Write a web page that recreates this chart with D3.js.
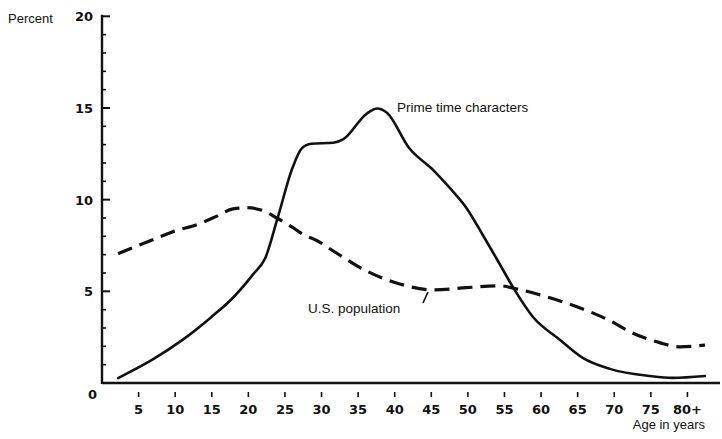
<!DOCTYPE html>
<html><head><meta charset="utf-8">
<script src="https://cdn.jsdelivr.net/npm/d3@7"></script>
<style>body{margin:0;background:#fff}svg{display:block}</style>
</head><body><svg id="c" width="722" height="439"></svg>
<script>
const primeAges = [2.2, 7, 11, 14.8, 17.9, 20.7, 22.3, 24, 26, 27.3, 28.6, 31.6, 33, 36.2, 37.6, 38.9, 42, 45.3, 47.5, 49.8, 52, 54.4, 56.2, 58.9, 62.6, 65.7, 69.4, 74.9, 78, 82.4];
const primeValues = [0.27, 1.3, 2.35, 3.55, 4.65, 5.95, 6.8, 9.0, 11.7, 12.8, 13.05, 13.1, 13.3, 14.7, 14.97, 14.75, 12.8, 11.6, 10.65, 9.55, 8.1, 6.45, 5.2, 3.6, 2.35, 1.37, 0.77, 0.38, 0.28, 0.38];
const usAges = [2.2, 6.6, 9.7, 13.4, 15.7, 17.9, 19.8, 22, 23.9, 26.1, 27.5, 29.4, 31.6, 36.2, 40.7, 45.3, 49.8, 54.4, 56.7, 61.2, 65.7, 69.4, 72.5, 76.2, 79, 82.4];
const usValues = [7.05, 7.76, 8.25, 8.7, 9.1, 9.5, 9.56, 9.4, 9.0, 8.47, 8.1, 7.76, 7.2, 6.1, 5.4, 5.08, 5.2, 5.3, 5.13, 4.65, 4.04, 3.4, 2.73, 2.2, 1.97, 2.07];
const xTicks = [5, 10, 15, 20, 25, 30, 35, 40, 45, 50, 55, 60, 65, 70, 75, 80];
const xTickLabels = ["5","10","15","20","25","30","35","40","45","50","55","60","65","70","75","80+"];
const yTicks = [5, 10, 15, 20];
const yTickLabels = ["5","10","15","20"];
const yMinorTicks = [1,2,3,4,6,7,8,9,11,12,13,14,16,17,18,19];

const svg = d3.select("#c");
const x = d3.scaleLinear().domain([0, 85]).range([102, 724]);
const y = d3.scaleLinear().domain([0, 20]).range([383, 16.3]);
const ink = "#111";

svg.append("line").attr("x1", x(0)).attr("x2", 720).attr("y1", y(0)).attr("y2", y(0))
  .attr("stroke", ink).attr("stroke-width", 2.4);
svg.append("line").attr("x1", x(0)).attr("x2", x(0)).attr("y1", y(0)+1).attr("y2", y(20)-1.5)
  .attr("stroke", ink).attr("stroke-width", 2.4);

svg.selectAll(".ymaj").data(yTicks).enter().append("line")
  .attr("x1", x(0)).attr("x2", x(0)+8).attr("y1", d=>y(d)).attr("y2", d=>y(d))
  .attr("stroke", ink).attr("stroke-width", 2);
svg.selectAll(".ymin").data(yMinorTicks).enter().append("line")
  .attr("x1", x(0)).attr("x2", x(0)+4).attr("y1", d=>y(d)).attr("y2", d=>y(d))
  .attr("stroke", ink).attr("stroke-width", 1.6);

const tickFont = "'DejaVu Sans', sans-serif";
svg.selectAll(".ylab").data(yTicks).enter().append("text")
  .attr("x", x(0)-9).attr("y", d=>y(d)+5).attr("text-anchor","end")
  .attr("font-family", tickFont).attr("font-size", 13).attr("font-weight","bold").attr("fill", ink)
  .text((d,i)=>yTickLabels[i]);
svg.append("text").attr("x", x(0)-5).attr("y", y(0)+16).attr("text-anchor","end")
  .attr("font-family", tickFont).attr("font-size", 13).attr("font-weight","bold").attr("fill", ink).text("0");

svg.selectAll(".xt").data(xTicks).enter().append("line")
  .attr("x1", d=>x(d)).attr("x2", d=>x(d)).attr("y1", 392).attr("y2", 397)
  .attr("stroke", ink).attr("stroke-width", 1.6);
svg.selectAll(".xlab").data(xTicks).enter().append("text")
  .attr("x", d=>x(d)).attr("y", 414).attr("text-anchor","middle")
  .attr("font-family", tickFont).attr("font-size", 13).attr("font-weight","bold").attr("fill", ink)
  .text((d,i)=>xTickLabels[i]);

const labFont = "'Liberation Sans', Arial, sans-serif";
svg.append("text").attr("x", 8).attr("y", 23).attr("font-family", labFont).attr("font-size", 13).attr("fill", ink).text("Percent");
svg.append("text").attr("x", 705).attr("y", 429).attr("text-anchor","end").attr("font-family", labFont).attr("font-size", 13).attr("fill", ink).text("Age in years");

const line = d3.line().x(d=>x(d[0])).y(d=>y(d[1])).curve(d3.curveMonotoneX);
svg.append("path").attr("d", line(primeAges.map((a,i)=>[a, primeValues[i]])))
  .attr("fill","none").attr("stroke", ink).attr("stroke-width", 2.6).attr("stroke-linecap","round");
svg.append("path").attr("d", line(usAges.map((a,i)=>[a, usValues[i]])))
  .attr("fill","none").attr("stroke", ink).attr("stroke-width", 3.2).attr("stroke-dasharray","15,8");

svg.append("text").attr("x", 397).attr("y", 112).attr("font-family", labFont).attr("font-size", 13.5).attr("fill", ink).text("Prime time characters");
svg.append("text").attr("x", 308).attr("y", 313).attr("font-family", labFont).attr("font-size", 13.5).attr("fill", ink).text("U.S. population");
svg.append("line").attr("x1", 423).attr("y1", 303).attr("x2", 428).attr("y2", 292).attr("stroke", ink).attr("stroke-width", 1.6);
</script></body></html>
